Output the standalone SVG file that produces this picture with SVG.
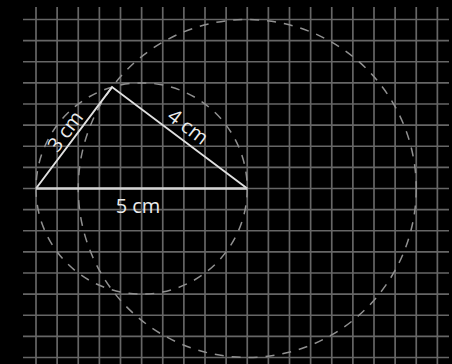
<svg xmlns="http://www.w3.org/2000/svg" width="452" height="364" viewBox="0 0 452 364">
<style>
.grid line{stroke:#666;stroke-width:1.7}
.circ{fill:none;stroke:#909090;stroke-width:1.5;stroke-dasharray:9 8}
.edge{stroke:#e0e0e0;stroke-width:1.9;fill:none}
.lbl{font-family:"Open Sans","Noto Sans",sans-serif;font-size:20px;fill:#ececec;text-anchor:middle}
</style>
<rect width="452" height="364" fill="#000"/>
<g class="grid" id="grid">
<line x1="36" y1="7" x2="36" y2="364"/>
<line x1="57.125" y1="7" x2="57.125" y2="364"/>
<line x1="78.25" y1="7" x2="78.25" y2="364"/>
<line x1="99.375" y1="7" x2="99.375" y2="364"/>
<line x1="120.5" y1="7" x2="120.5" y2="364"/>
<line x1="141.625" y1="7" x2="141.625" y2="364"/>
<line x1="162.75" y1="7" x2="162.75" y2="364"/>
<line x1="183.875" y1="7" x2="183.875" y2="364"/>
<line x1="205" y1="7" x2="205" y2="364"/>
<line x1="226.125" y1="7" x2="226.125" y2="364"/>
<line x1="247.25" y1="7" x2="247.25" y2="364"/>
<line x1="268.375" y1="7" x2="268.375" y2="364"/>
<line x1="289.5" y1="7" x2="289.5" y2="364"/>
<line x1="310.625" y1="7" x2="310.625" y2="364"/>
<line x1="331.75" y1="7" x2="331.75" y2="364"/>
<line x1="352.875" y1="7" x2="352.875" y2="364"/>
<line x1="374" y1="7" x2="374" y2="364"/>
<line x1="395.125" y1="7" x2="395.125" y2="364"/>
<line x1="416.25" y1="7" x2="416.25" y2="364"/>
<line x1="437.375" y1="7" x2="437.375" y2="364"/>
<line x1="23" y1="19.5" x2="449" y2="19.5"/>
<line x1="23" y1="40.625" x2="449" y2="40.625"/>
<line x1="23" y1="61.75" x2="449" y2="61.75"/>
<line x1="23" y1="82.875" x2="449" y2="82.875"/>
<line x1="23" y1="104" x2="449" y2="104"/>
<line x1="23" y1="125.125" x2="449" y2="125.125"/>
<line x1="23" y1="146.25" x2="449" y2="146.25"/>
<line x1="23" y1="167.375" x2="449" y2="167.375"/>
<line x1="23" y1="188.5" x2="449" y2="188.5"/>
<line x1="23" y1="209.625" x2="449" y2="209.625"/>
<line x1="23" y1="230.75" x2="449" y2="230.75"/>
<line x1="23" y1="251.875" x2="449" y2="251.875"/>
<line x1="23" y1="273" x2="449" y2="273"/>
<line x1="23" y1="294.125" x2="449" y2="294.125"/>
<line x1="23" y1="315.25" x2="449" y2="315.25"/>
<line x1="23" y1="336.375" x2="449" y2="336.375"/>
<line x1="23" y1="357.5" x2="449" y2="357.5"/>
</g>
<g id="circles">
<circle class="circ" cx="141.625" cy="188.5" r="105.625"/>
<circle class="circ" cx="247.25" cy="188.5" r="169"/>
</g>
<g id="triangle">
<polyline class="edge" points="36,188.5 112.05,87.1 247.25,188.5"/>
<line x1="36" y1="188.5" x2="247.25" y2="188.5" stroke="#d4d4d4" stroke-width="2.6"/>
</g>
<g id="labels">
<text class="lbl" transform="translate(74,137.8) rotate(-53.13)" y="-4">3 cm</text>
<text class="lbl" transform="translate(179.6,137.8) rotate(36.87)" y="-7">4 cm</text>
<text class="lbl" x="138" y="213">5 cm</text>
</g>
</svg>
